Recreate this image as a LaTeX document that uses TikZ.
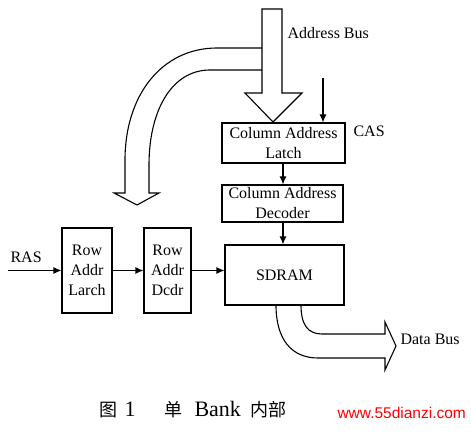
\documentclass[tikz,border=0pt]{standalone}
\usepackage{fontspec}
\setmainfont{Liberation Serif}
\newfontfamily\cjk{Noto Sans CJK SC}
\newfontfamily\webfont{Liberation Sans}
\usetikzlibrary{arrows.meta,positioning}

\begin{document}
\begin{tikzpicture}[x=1pt,y=-1pt,line width=1.1pt,
  blk/.style={draw,align=center,inner sep=0pt,font=\fontsize{16}{20}\selectfont},
  sig/.style={-{Latex[length=8pt,width=7pt]}},
  lbl/.style={anchor=west,inner sep=0pt,font=\fontsize{16}{20}\selectfont}]

\useasboundingbox (0,0) rectangle (471,435);

% Blocks
\node[blk,minimum width=123pt,minimum height=40pt] (collatch) at (283.5,143) {Column Address\\Latch};
\node[blk,minimum width=121pt,minimum height=37pt] (coldec) at (282.5,203.5) {Column Address\\Decoder};
\node[blk,minimum width=119pt,minimum height=60pt] (sdram) at (284.5,275) {SDRAM};
\node[blk,minimum width=50pt,minimum height=85pt] (rowlatch) at (87,270.5) {Row\\Addr\\Larch};
\node[blk,minimum width=47pt,minimum height=85pt] (rowdec) at (167.5,270.5) {Row\\Addr\\Dcdr};

% Control signals
\coordinate (cas) at (323,78);
\coordinate (ras) at (8,270.5);
\draw[sig] (cas) -- (cas |- collatch.north);
\draw[sig] (ras) -- (rowlatch.west);
\draw[sig] (rowlatch) -- (rowdec);
\draw[sig] (rowdec.east) -- (rowdec.east -| sdram.west);
\draw[sig] (collatch.south -| 283,0) -- (coldec.north -| 283,0);
\draw[sig] (coldec.south -| 283,0) -- (sdram.north -| 283,0);

% Address bus
\draw (262,9) -- (262,93) -- (245,93) -- (273,122) -- (302,93) -- (282,93) -- (282,9) -- cycle;
\draw (262,48) -- (217,48) .. controls (162,48) and (125,95) .. (125,160) -- (125,193)
  -- (114,193) -- (137,205) -- (159,193) -- (149,193) -- (149,165)
  .. controls (149,110) and (172,70) .. (210,70) -- (262,70);

% Data bus
\draw (276,305) .. controls (276,340) and (292,358) .. (318,358) -- (385,358) -- (385,370)
  -- (396,346) -- (385,322) -- (385,334) -- (322,334) .. controls (308,334) and (301,325) .. (301,305);

% Labels
\node[lbl] (addrbus) at (287,33) {Address Bus};
\node[lbl] (caslbl) at (353,131) {CAS};
\node[lbl] (raslbl) at (10,257) {RAS};
\node[lbl] (databus) at (400,339) {Data Bus};

% Caption
\node[anchor=west,inner sep=0pt,font=\fontsize{22}{24}\selectfont] (caption) at (99,410)
  {{\cjk\fontsize{18}{20}\selectfont 图}\hspace{7pt}1\hspace{29pt}{\cjk\fontsize{18}{20}\selectfont 单}\hspace{12pt}Bank\hspace{10pt}{\cjk\fontsize{18}{20}\selectfont 内部}};
\node[anchor=west,inner sep=0pt,text=red,font=\webfont\fontsize{15.5}{17}\selectfont] (site) at (337,413) {www.55dianzi.com};

\end{tikzpicture}
\end{document}
